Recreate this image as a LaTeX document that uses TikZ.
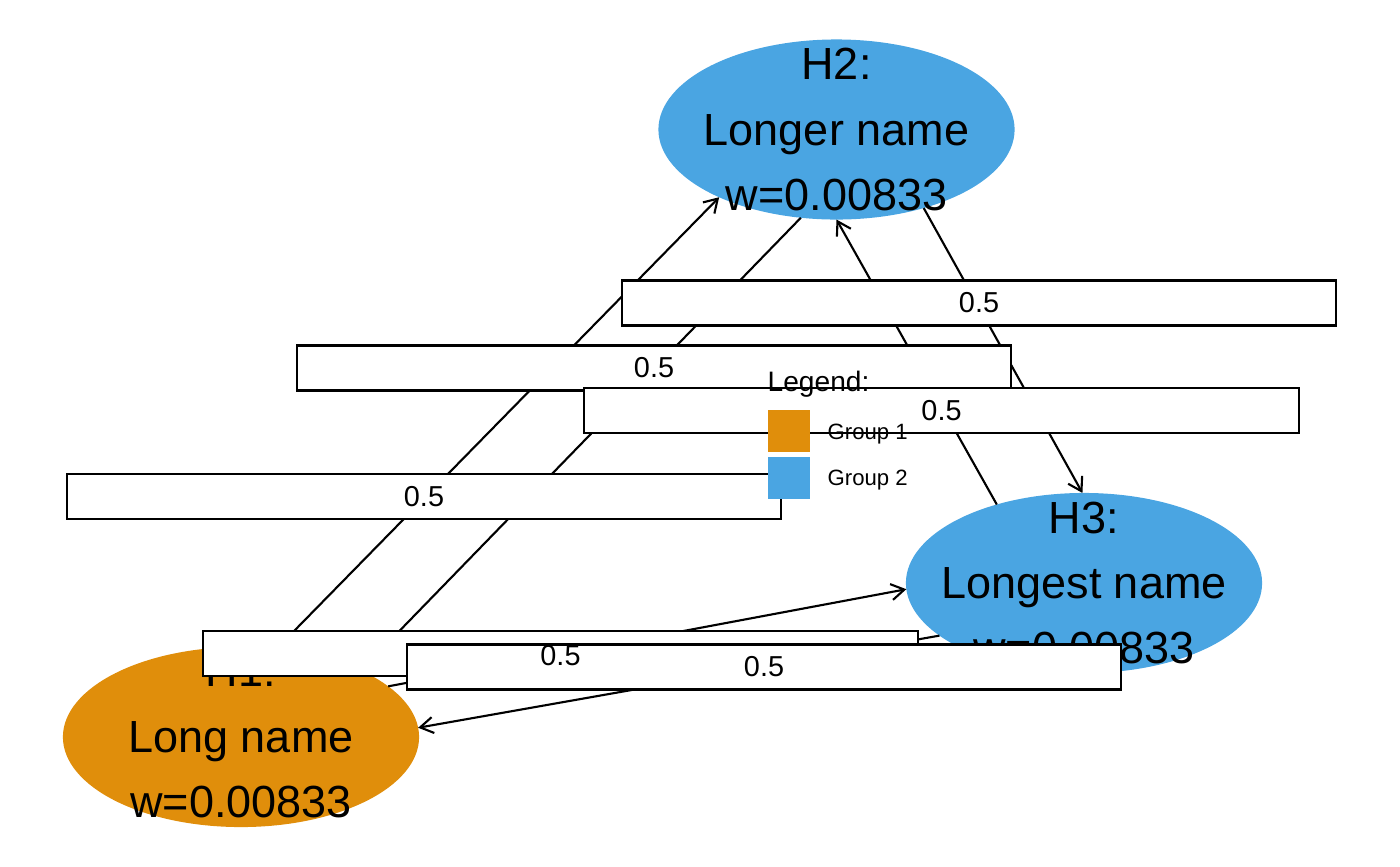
\documentclass[tikz,border=0pt]{standalone}
\usepackage{fontspec}
\setmainfont{Liberation Sans}
\usetikzlibrary{positioning}
\usetikzlibrary{shapes.geometric}
\usetikzlibrary{arrows.meta}
\definecolor{grpone}{RGB}{224,142,11}
\definecolor{grptwo}{RGB}{74,165,226}

\begin{document}
\begin{tikzpicture}[x=0.01cm,y=-0.01cm,
		hnode/.style={ellipse,minimum width=3.56cm,minimum height=1.80cm,inner sep=0pt,outer sep=0pt},
		htext/.style={align=center,inner sep=0pt,font=\fontsize{12.8}{18.6}\selectfont},
		edge/.style={line width=0.6pt,-{Straight Barb[length=1.3mm,width=1.6mm]}},
		wbox/.style={rectangle,draw=black,fill=white,line width=0.6pt,minimum width=7.14cm,minimum height=0.45cm,inner sep=0pt},
		wtext/.style={inner sep=0pt,font=\fontsize{8.2}{9}\selectfont},
		swatch/.style={rectangle,minimum size=0.42cm,inner sep=0pt},
		legtext/.style={anchor=base west,inner sep=0pt,font=\fontsize{6.3}{7}\selectfont}]
		\useasboundingbox (0,0) rectangle (1400,866);
		\node[hnode,fill=grpone] (H1) at (241,737) {};
		\node[hnode,fill=grptwo] (H2) at (836.5,129.5) {};
		\node[hnode,fill=grptwo] (H3) at (1084,583) {};
		\draw[edge] (H1.68) -- (H2.210);
		\draw[edge] (H2.248) -- (H1.29);
		\draw[edge] (H2.318) -- (H3.91);
		\draw[edge] (H3.138) -- (H2.270);
		\draw[edge] (H1.19) -- (H3.182);
		\draw[edge] (H3.200) -- (H1.3);
		\node[htext] (H1txt) at (H1) {H1:\\Long name\\w=0.00833};
		\node[htext] (H2txt) at (H2) {H2:\\Longer name\\w=0.00833};
		\node[htext] (H3txt) at (H3) {H3:\\Longest name\\w=0.00833};
		% weight boxes first, then their texts on top
		\node[wbox] (lab1) at (979,303) {};
		\node[wbox] (lab2) at (654,368) {};
		\node[wbox] (lab3) at (941.5,410.5) {};
		\node[wbox] (lab4) at (424,496.5) {};
		\node[wbox] (lab5) at (560.5,653.5) {};
		\node[wbox] (lab6) at (764,667) {};
		\foreach \l in {lab1,lab2,lab3,lab4,lab6}
			\node[wtext] (\l txt) at (\l) {0.5};
		\node[wtext] (lab5txt) at ([yshift=-0.025cm]lab5.center) {0.5};
		% legend
		\node[anchor=base west,inner sep=0pt,font=\fontsize{8}{9}\selectfont] (legtitle) at (767,391) {Legend:};
		\node[swatch,fill=grpone] (sw1) at (789,431) {};
		\node[swatch,fill=grptwo,below=0.04cm of sw1] (sw2) {};
		\node[legtext] (grp1) at (827,439) {Group 1};
		\node[legtext] (grp2) at (827,485) {Group 2};
	\end{tikzpicture}
\end{document}
